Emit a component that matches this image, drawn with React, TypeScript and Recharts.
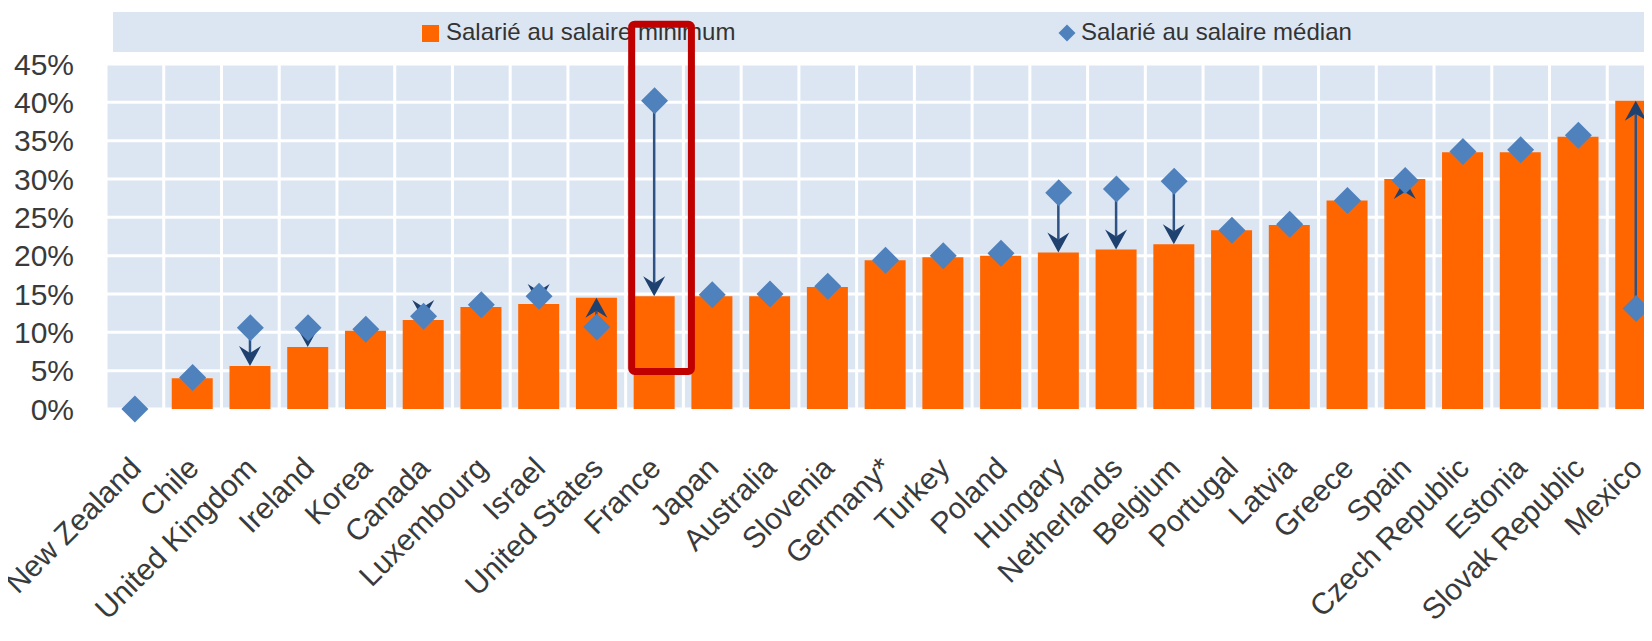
import {
  ComposedChart,
  Bar,
  Line,
  XAxis,
  YAxis,
  CartesianGrid,
  ReferenceArea,
} from "recharts";

const countries = [
  "New Zealand",
  "Chile",
  "United Kingdom",
  "Ireland",
  "Korea",
  "Canada",
  "Luxembourg",
  "Israel",
  "United States",
  "France",
  "Japan",
  "Australia",
  "Slovenia",
  "Germany*",
  "Turkey",
  "Poland",
  "Hungary",
  "Netherlands",
  "Belgium",
  "Portugal",
  "Latvia",
  "Greece",
  "Spain",
  "Czech Republic",
  "Estonia",
  "Slovak Republic",
  "Mexico",
];

// Salarié au salaire minimum (%)
const minimumWage = [
  0, 4.0, 5.6, 8.1, 10.2, 11.6, 13.3, 13.7, 14.5, 14.7, 14.7, 14.7, 15.9, 19.4,
  19.8, 20.0, 20.4, 20.8, 21.5, 23.3, 24.0, 27.2, 30.0, 33.5, 33.5, 35.5, 40.2,
];

// Salarié au salaire médian (%)
const medianWage = [
  0, 4.1, 10.6, 10.6, 10.4, 12.1, 13.6, 14.7, 10.7, 40.2, 14.9, 15.0, 16.0, 19.4,
  20.0, 20.3, 28.2, 28.7, 29.7, 23.3, 24.1, 27.2, 29.8, 33.6, 33.8, 35.7, 13.1,
];

// countries where an arrow goes from the median marker to the minimum bar
const arrowCountries = [
  "United Kingdom",
  "Ireland",
  "Canada",
  "Israel",
  "United States",
  "France",
  "Hungary",
  "Netherlands",
  "Belgium",
  "Spain",
  "Mexico",
];

const yTicks = [0, 5, 10, 15, 20, 25, 30, 35, 40, 45];

const highlight = { country: "France", from: 4.9, to: 50.2 };

const legendItems = ["Salarié au salaire minimum", "Salarié au salaire médian"];

const FONT = "'Liberation Sans', Arial, sans-serif";
const ORANGE = "#ff6600";
const BLUE = "#4f81bd";
const NAVY = "#1f4170";

const data = countries.map((country, i) => ({
  country,
  minimum: minimumWage[i],
  median: medianWage[i],
  arrow: arrowCountries.includes(country)
    ? [Math.min(minimumWage[i], medianWage[i]), Math.max(minimumWage[i], medianWage[i])]
    : null,
}));

const XTick = ({ x, y, payload }: any) => (
  <g transform={`translate(${x + 8},${y + 61})`}>
    <text
      textAnchor="end"
      transform="rotate(-45)"
      fontSize={30}
      fontFamily={FONT}
      fill="#3a3a3a"
    >
      {payload.value}
    </text>
  </g>
);

const Diamond = (props: any) => {
  const { cx, cy, index } = props;
  if (cx == null || cy == null) return <g key={`d-${index}`} />;
  const r = 13.5;
  return (
    <polygon
      key={`d-${index}`}
      points={`${cx},${cy - r} ${cx + r},${cy} ${cx},${cy + r} ${cx - r},${cy}`}
      fill={BLUE}
    />
  );
};

const ArrowShape = (props: any) => {
  const { x, y, width, height, payload } = props;
  if (!payload || !payload.arrow || y == null || height == null) return <g />;
  const cx = x + width / 2;
  const down = payload.median > payload.minimum;
  const dir = down ? 1 : -1;
  const start = down ? y : y + height;
  const tip = down ? y + height : y;
  const headLen = 20;
  const headHalf = 11;
  const notch = 7;
  const back = tip - dir * headLen;
  const notchY = tip - dir * (headLen - notch);
  return (
    <g>
      <line x1={cx} y1={start} x2={cx} y2={notchY} stroke="#2e5283" strokeWidth={2.5} />
      <polygon
        points={`${cx},${tip} ${cx + headHalf},${back} ${cx},${notchY} ${cx - headHalf},${back}`}
        fill={NAVY}
      />
    </g>
  );
};

const HighlightBox = (props: any) => {
  const { x, y, width, height } = props;
  if (x == null || y == null) return <g />;
  return (
    <rect
      x={x + 6}
      y={y}
      width={width + 2}
      height={height}
      rx={3}
      fill="none"
      stroke="#c00000"
      strokeWidth={7}
    />
  );
};

const Legend = () => (
  <div
    style={{
      position: "absolute",
      left: 113,
      top: 12,
      width: 1539,
      height: 40,
      background: "#dce6f2",
      fontFamily: FONT,
      fontSize: 24,
      color: "#333",
      zIndex: 0,
    }}
  >
    <div style={{ position: "absolute", left: 309, top: 13, width: 17, height: 17, background: ORANGE }} />
    <div style={{ position: "absolute", left: 333, top: 0, lineHeight: "40px", whiteSpace: "nowrap" }}>
      {legendItems[0]}
    </div>
    <div
      style={{
        position: "absolute",
        left: 948,
        top: 15,
        width: 12,
        height: 12,
        background: BLUE,
        transform: "rotate(45deg)",
      }}
    />
    <div style={{ position: "absolute", left: 968, top: 0, lineHeight: "40px", whiteSpace: "nowrap" }}>
      {legendItems[1]}
    </div>
  </div>
);

const App = () => {
  return (
    <div
      style={{
        margin: -8,
        width: 1652,
        height: 641,
        overflow: "hidden",
        position: "relative",
        background: "#fff",
      }}
    >
      <Legend />
      <div style={{ position: "relative", zIndex: 1 }}>
        <ComposedChart
          width={1665}
          height={641}
          data={data}
          margin={{ top: 64, right: 0, bottom: 0, left: 0 }}
        >
          <CartesianGrid
            fill="#dce6f2"
            fillOpacity={1}
            stroke="#ffffff"
            strokeWidth={3}
            verticalCoordinatesGenerator={({ offset }: any) =>
              countries.map((_, i) => offset.left + (i * offset.width) / countries.length)
            }
          />
          <XAxis
            dataKey="country"
            interval={0}
            height={232}
            tickLine={false}
            axisLine={false}
            tickSize={0}
            tickMargin={0}
            tick={<XTick />}
          />
          <XAxis xAxisId="arrow" dataKey="country" hide />
          <YAxis
            width={106}
            domain={[0, 45]}
            ticks={yTicks}
            interval={0}
            tickFormatter={(v: number) => `${v}%`}
            tickLine={false}
            axisLine={false}
            tickSize={0}
            tickMargin={32}
            tick={{ fontSize: 30, fontFamily: FONT, fill: "#3a3a3a" }}
          />
          <Bar dataKey="minimum" fill={ORANGE} barSize={41} isAnimationActive={false} />
          <Bar
            dataKey="arrow"
            xAxisId="arrow"
            barSize={41}
            shape={ArrowShape}
            isAnimationActive={false}
          />
          <Line
            dataKey="median"
            stroke="none"
            dot={Diamond}
            activeDot={false}
            isAnimationActive={false}
          />
          <ReferenceArea
            x1={highlight.country}
            x2={highlight.country}
            y1={highlight.from}
            y2={highlight.to}
            ifOverflow="visible"
            shape={HighlightBox}
            {...({ zIndex: 1500 } as any)}
          />
        </ComposedChart>
      </div>
    </div>
  );
};

export default App;
